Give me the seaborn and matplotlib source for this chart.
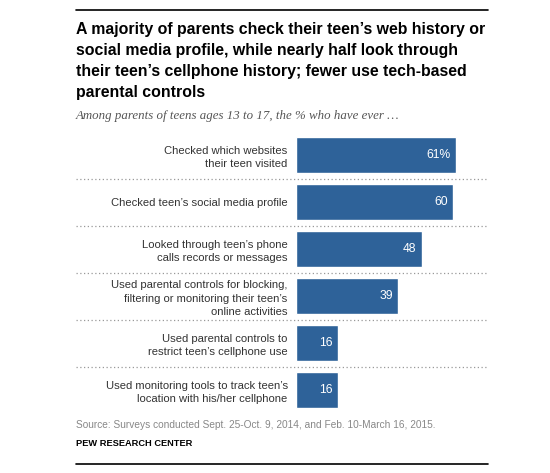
import numpy as np
import pandas as pd
import seaborn as sns
import matplotlib.pyplot as plt

# chart data
labels = [
    "Checked which websites\ntheir teen visited",
    "Checked teen\u2019s social media profile",
    "Looked through teen\u2019s phone\ncalls records or messages",
    "Used parental controls for blocking,\nfiltering or monitoring their teen\u2019s\nonline activities",
    "Used parental controls to\nrestrict teen\u2019s cellphone use",
    "Used monitoring tools to track teen\u2019s\nlocation with his/her cellphone",
]
values = [61, 60, 48, 39, 16, 16]
value_text = ["61%", "60", "48", "39", "16", "16"]

df = pd.DataFrame({"label": labels, "value": values})

sns.set_theme(style="white")
plt.rcParams["font.family"] = ["Liberation Sans", "DejaVu Sans"]

W, H = 550, 473
fig = plt.figure(figsize=(5.5, 4.73), dpi=100)

def fx(px):
    return px / W

def fy(py):
    return 1 - py / H

ax_left, ax_right = 296, 488
ax_top, ax_bot = 131.5, 413.5
ax = fig.add_axes([fx(ax_left), fy(ax_bot), fx(ax_right - ax_left), (ax_bot - ax_top) / H])

bar_color = "#2E6299"
sns.barplot(data=df, x="value", y="label", color=bar_color, width=0.77,
            saturation=1, ax=ax)

ax.set_xlim(0, (ax_right - ax_left) / 2.62)
ax.set_ylim(len(values) - 0.5, -0.5)
ax.set_xlabel("")
ax.set_ylabel("")
ax.set_xticks([])
for s in ax.spines.values():
    s.set_visible(False)
ax.tick_params(axis="y", length=0, pad=6, labelsize=8.1, labelcolor="#333333")
for t in ax.get_yticklabels():
    t.set_linespacing(1.4)

# value labels
for i, (v, txt) in enumerate(zip(values, value_text)):
    ax.text(v - 2.0, i, txt, ha="right", va="center", color="white", fontsize=8.7)

# dotted separators
xmin = (76 - ax_left) / (ax_right - ax_left)
for i in range(len(values) - 1):
    ax.axhline(i + 0.5, xmin=xmin, xmax=1, color="#999999", lw=0.9,
               ls=(0, (1, 2)), clip_on=False)

# rules
fig.add_artist(plt.Line2D([fx(76), fx(488)], [fy(10), fy(10)], color="black", lw=1.2))
fig.add_artist(plt.Line2D([fx(76), fx(488)], [fy(464), fy(464)], color="black", lw=1.2))

title = ("A majority of parents check their teen\u2019s web history or\n"
         "social media profile, while nearly half look through\n"
         "their teen\u2019s cellphone history; fewer use tech-based\n"
         "parental controls")
fig.text(fx(76), fy(22), title, ha="left", va="top", fontsize=11.4,
         fontweight="bold", color="black", linespacing=1.5)

fig.text(fx(76), fy(116), "Among parents of teens ages 13 to 17, the % who have ever \u2026",
         ha="left", va="center", fontsize=9.3, style="italic", color="#555555",
         family=["Liberation Serif", "DejaVu Serif"])

fig.text(fx(76), fy(425), "Source: Surveys conducted Sept. 25-Oct. 9, 2014, and Feb. 10-March 16, 2015.",
         ha="left", va="center", fontsize=7.3, color="#888888")
fig.text(fx(76), fy(443), "PEW RESEARCH CENTER", ha="left", va="center",
         fontsize=6.7, fontweight="bold", color="black")

fig.savefig("out.png", dpi=100)
